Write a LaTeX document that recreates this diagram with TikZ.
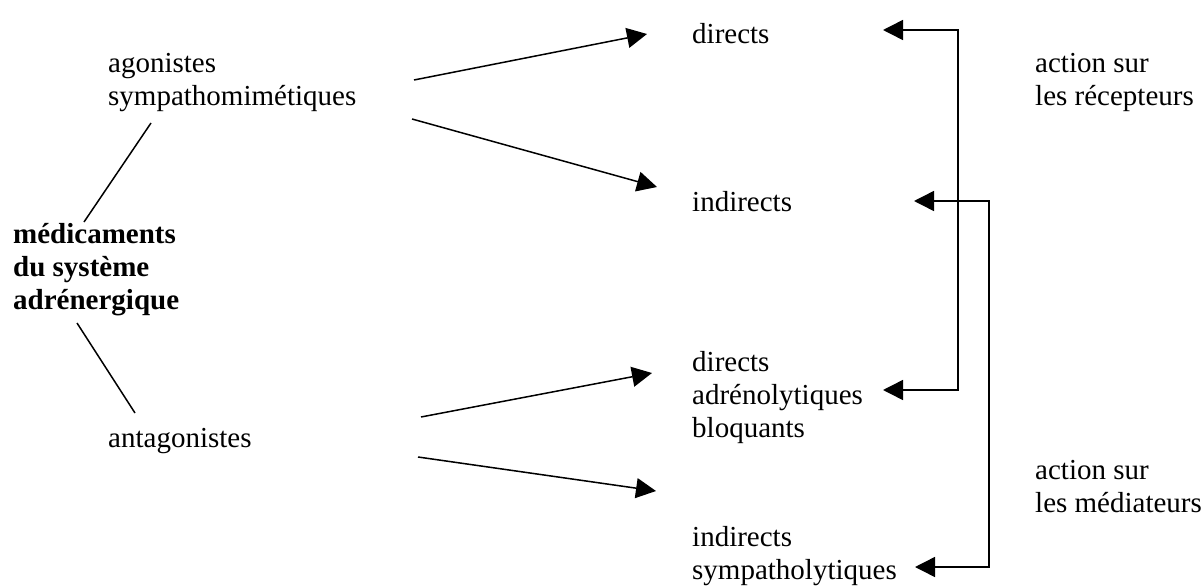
\documentclass[tikz,border=0pt]{standalone}
\usepackage{fontspec}
\setmainfont{Liberation Serif}
\usetikzlibrary{arrows.meta}
\begin{document}
\begin{tikzpicture}[x=1pt,y=-1pt,
  lbl/.style={anchor=north west,inner sep=0pt,align=left,font=\fontsize{29}{33}\selectfont},
  conn/.style={line width=1.5pt},
  arr/.style={conn,-{Triangle[length=20pt,width=20pt]}},
  barr/.style={conn,{Triangle[length=20pt,width=20pt]}-{Triangle[length=20pt,width=20pt]}}]
\useasboundingbox (0,0) rectangle (1204,586);
% left
\node[lbl] (ago) at (108,49) {\strut agonistes\\sympathomimétiques};
\node[lbl,font=\fontsize{29}{33}\selectfont\bfseries] (med) at (13,220) {\strut médicaments\\du système\\adrénergique};
\node[lbl] (ant) at (108,424) {\strut antagonistes};
% middle
\node[lbl] (d1) at (692,20) {\strut directs};
\node[lbl] (i1) at (692,188) {\strut indirects};
\node[lbl] (d2) at (692,348) {\strut directs\\adrénolytiques\\bloquants};
\node[lbl] (i2) at (692,523) {\strut indirects\\sympatholytiques};
% right
\node[lbl] (rec) at (1035,49) {\strut action sur\\les récepteurs};
\node[lbl] (mdt) at (1035,456) {\strut action sur\\les médiateurs};
% connector ends
\coordinate (agoA) at (151,123);
\coordinate (medA) at (84,222);
\coordinate (medB) at (77,323);
\coordinate (antA) at (135,413);
\coordinate (agoR1) at (414,80);
\coordinate (agoR2) at (412,119);
\coordinate (d1L) at (647,34);
\coordinate (i1L) at (657,187);
\coordinate (antR1) at (421,417);
\coordinate (antR2) at (418,457);
\coordinate (d2L) at (652,373);
\coordinate (i2L) at (656,491);
\coordinate (d1R) at (883,30);
\coordinate (d2R) at (883,390);
\coordinate (i1R) at (914,201);
\coordinate (i2R) at (915,567);
% lines
\draw[conn] (agoA) -- (medA);
\draw[conn] (medB) -- (antA);
\draw[arr] (agoR1) -- (d1L);
\draw[arr] (agoR2) -- (i1L);
\draw[arr] (antR1) -- (d2L);
\draw[arr] (antR2) -- (i2L);
\draw[barr] (d1R) -- (958,30) |- (d2R);
\draw[barr] (i1R) -- (989,201) |- (i2R);
\end{tikzpicture}
\end{document}
